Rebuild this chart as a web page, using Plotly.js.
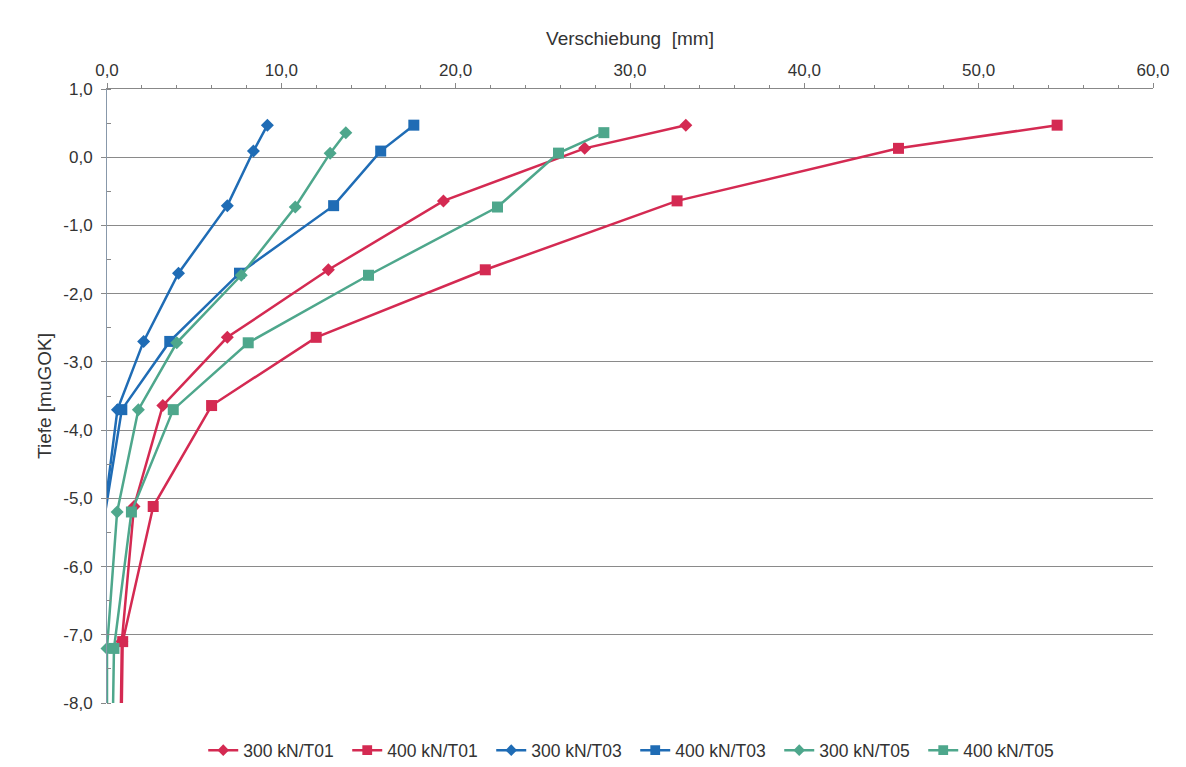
<!DOCTYPE html>
<html>
<head>
<meta charset="utf-8">
<script src="https://cdn.plot.ly/plotly-3.0.1.min.js"></script>
<style>html,body{margin:0;padding:0;background:#fff;}#chart{width:1186px;height:767px;}</style>
</head>
<body>
<div id="chart"></div>
<script>
// Depths [m u. GOK]
const depthT01 = [0.47, 0.13, -0.64, -1.65, -2.64, -3.64, -5.12, -7.1, -8.0];
const depthT03 = [0.47, 0.09, -0.71, -1.7, -2.7, -3.7, -5.2, -7.2, -8.0];
const depthT05 = [0.36, 0.06, -0.73, -1.73, -2.72, -3.7, -5.2, -7.2, -8.0];

// Displacements [mm]
const x300T01 = [33.2, 27.4, 19.3, 12.7, 6.9, 3.2, 1.55, 0.85, 0.8];
const x400T01 = [54.5, 45.4, 32.7, 21.7, 12.0, 6.0, 2.65, 0.9, 0.85];
const x300T03 = [9.2, 8.4, 6.9, 4.1, 2.1, 0.6, -0.15, -0.2, -0.2];
const x400T03 = [17.6, 15.7, 13.0, 7.6, 3.6, 0.85, -0.1, -0.2, -0.2];
const x300T05 = [13.7, 12.8, 10.8, 7.7, 4.0, 1.8, 0.58, 0.0, 0.0];
const x400T05 = [28.5, 25.9, 22.4, 15.0, 8.1, 3.8, 1.4, 0.4, 0.35];

const seriesNames = ["300 kN/T01", "400 kN/T01", "300 kN/T03", "400 kN/T03", "300 kN/T05", "400 kN/T05"];

const xTickVals = [0, 10, 20, 30, 40, 50, 60];
const xTickText = ["0,0", "10,0", "20,0", "30,0", "40,0", "50,0", "60,0"];
const yTickVals = [1, 0, -1, -2, -3, -4, -5, -6, -7, -8];
const yTickText = ["1,0", "0,0", "-1,0", "-2,0", "-3,0", "-4,0", "-5,0", "-6,0", "-7,0", "-8,0"];

const RED = "#d42a52", BLUE = "#1f6cb5", GREEN = "#4ea78c";

function tr(name, x, y, color, symbol, size, clip) {
  // the last reading (pile toe) is drawn as line end only, without a marker
  const sizes = x.map((_, i) => (i === x.length - 1 ? 0 : size));
  return {
    type: "scatter", mode: "lines+markers", name: name, x: x, y: y,
    line: {color: color, width: 2.5},
    marker: {color: color, symbol: symbol, size: sizes, opacity: 1, line: {width: 0}},
    cliponaxis: clip
  };
}

const data = [
  tr(seriesNames[0], x300T01, depthT01, RED, "diamond", 10, false),
  tr(seriesNames[1], x400T01, depthT01, RED, "square", 11, false),
  tr(seriesNames[2], x300T03, depthT03, BLUE, "diamond", 10, true),
  tr(seriesNames[3], x400T03, depthT03, BLUE, "square", 11, true),
  tr(seriesNames[4], x300T05, depthT05, GREEN, "diamond", 10, false),
  tr(seriesNames[5], x400T05, depthT05, GREEN, "square", 11, false)
];

const FONT = "Liberation Sans, Arial, sans-serif";
const layout = {
  width: 1186, height: 767,
  paper_bgcolor: "#fff", plot_bgcolor: "#fff",
  font: {family: FONT, color: "#333", size: 16},
  margin: {l: 107, r: 33, t: 89, b: 64, autoexpand: false},
  showlegend: true,
  legend: {orientation: "h", x: 0.505, xanchor: "center", y: -0.077, yanchor: "middle",
           font: {size: 17.5, color: "#333"}, entrywidth: 99, traceorder: "normal"},
  xaxis: {
    side: "top", range: [0, 60], autorange: false,
    tickvals: xTickVals, ticktext: xTickText,
    tickfont: {size: 17, color: "#333"},
    ticks: "outside", ticklen: 5, tickcolor: "#888",
    minor: {dtick: 2, ticks: "outside", ticklen: 3, tickcolor: "#888", showgrid: false},
    showline: true, linecolor: "#888", linewidth: 1,
    showgrid: false, zeroline: false,
    title: {text: "Verschiebung  [mm]", font: {size: 19, color: "#333"}, standoff: 10}
  },
  yaxis: {
    range: [-8, 1], autorange: false,
    tickvals: yTickVals, ticktext: yTickText,
    tickfont: {size: 17, color: "#333"},
    ticks: "outside", ticklen: 5, tickcolor: "#888",
    ticklabelstandoff: 5,
    minor: {dtick: 0.5, ticks: "inside", ticklen: 4, tickcolor: "#888", showgrid: false},
    showline: true, linecolor: "#8898aa", linewidth: 1,
    showgrid: true, gridcolor: "#8a8a8a", gridwidth: 1,
    zeroline: false,
    title: {text: "Tiefe [muGOK]", font: {size: 19, color: "#333"}, standoff: 6}
  }
};

Plotly.newPlot("chart", data, layout, {displayModeBar: false, staticPlot: true});
</script>
</body>
</html>
